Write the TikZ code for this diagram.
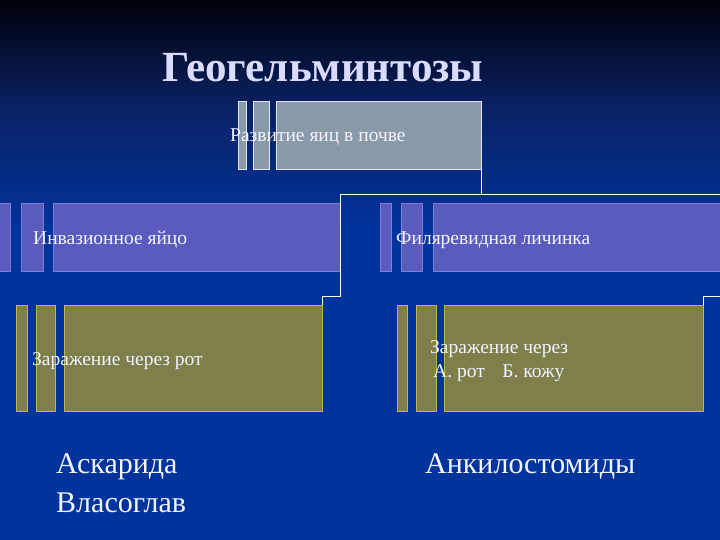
\documentclass[tikz,border=0pt]{standalone}
\usepackage{fontspec}
\setmainfont{Liberation Serif}
\definecolor{bgtop}{HTML}{000008}
\definecolor{bgmid}{HTML}{0A2266}
\definecolor{bgbot}{HTML}{00339C}
\definecolor{greyfill}{HTML}{8A9AAA}
\definecolor{violfill}{HTML}{5B5BBD}
\definecolor{violline}{HTML}{7E7EDC}
\definecolor{olivefill}{HTML}{7F7F4C}
\definecolor{oliveline}{HTML}{C8B44A}
\definecolor{txt}{HTML}{F2F4FF}
\tikzset{
  greybox/.style={draw=white!90!blue, line width=0.8pt, fill=greyfill, rectangle, inner sep=0pt, anchor=north west},
  violbox/.style={draw=violline, line width=0.8pt, fill=violfill, rectangle, inner sep=0pt, anchor=north west},
  olivebox/.style={draw=oliveline, line width=0.8pt, fill=olivefill, rectangle, inner sep=0pt, anchor=north west},
  boxtext/.style={text=txt, font=\fontsize{19.5}{22}\selectfont, anchor=base west, inner sep=0pt},
  bigtext/.style={text=txt, font=\fontsize{30}{38}\selectfont, anchor=base west, inner sep=0pt, align=left},
  conn/.style={draw=white, line width=0.9pt},
}
\begin{document}
\begin{tikzpicture}[x=1pt,y=-1pt]
\useasboundingbox (0,0) rectangle (720,540);
% background
\fill[bgbot] (0,0) rectangle (720,540);
\shade[top color=bgtop, bottom color=bgmid] (0,0) rectangle (720,110);
\shade[top color=bgmid, bottom color=bgbot] (0,110) rectangle (720,230);
% title
\node[text=txt!90!blue, font=\bfseries\fontsize{43}{50}\selectfont, anchor=base west, inner sep=0pt] (title) at (162,82) {Геогельминтозы};
% box 1
\node[greybox, minimum width=8pt, minimum height=68pt] (b1s1) at (238,101) {};
\node[greybox, minimum width=16pt, minimum height=68pt] (b1s2) at (253,101) {};
\node[greybox, minimum width=205pt, minimum height=68pt] (b1) at (276,101) {};
% box 2
\node[violbox, minimum width=11pt, minimum height=68pt] (b2s1) at (-1,203) {};
\node[violbox, minimum width=22pt, minimum height=68pt] (b2s2) at (21,203) {};
\node[violbox, minimum width=287pt, minimum height=68pt] (b2) at (53,203) {};
% box 3
\node[violbox, minimum width=11pt, minimum height=68pt] (b3s1) at (380,203) {};
\node[violbox, minimum width=21pt, minimum height=68pt] (b3s2) at (401,203) {};
\node[violbox, minimum width=290pt, minimum height=68pt] (b3) at (433,203) {};
% box 4
\node[olivebox, minimum width=11pt, minimum height=106pt] (b4s1) at (16,305) {};
\node[olivebox, minimum width=19pt, minimum height=106pt] (b4s2) at (36,305) {};
\node[olivebox, minimum width=258pt, minimum height=106pt] (b4) at (64,305) {};
% box 5
\node[olivebox, minimum width=10pt, minimum height=106pt] (b5s1) at (397,305) {};
\node[olivebox, minimum width=20pt, minimum height=106pt] (b5s2) at (416,305) {};
\node[olivebox, minimum width=259pt, minimum height=106pt] (b5) at (444,305) {};
% connectors
\coordinate (j1) at (340,194);
\coordinate (j2) at (340,296);
\coordinate (r1) at (721,194);
\coordinate (r2) at (721,296);
\draw[conn] (b1.south east) |- (j1) -- (j2) -| (b4.north east);
\draw[conn] (j1) -- (r1);
\draw[conn] (r2) -| (b5.north east);
% texts
\node[boxtext] (t1) at (230,142) {Развитие яиц в почве};
\node[boxtext] (t2) at (33,244) {Инвазионное яйцо};
\node[boxtext] (t3) at (396,244) {Филяревидная личинка};
\node[boxtext] (t4) at (32,365) {Заражение через рот};
\node[boxtext] (t5a) at (430,353) {Заражение через};
\node[boxtext] (t5b) at (433,377) {А. рот\hspace{0.9em}Б. кожу};
\node[bigtext] (t6a) at (56,473) {Аскарида};
\node[bigtext] (t6b) at (56,512) {Власоглав};
\node[bigtext] (t7) at (425,473) {Анкилостомиды};
\end{tikzpicture}
\end{document}
